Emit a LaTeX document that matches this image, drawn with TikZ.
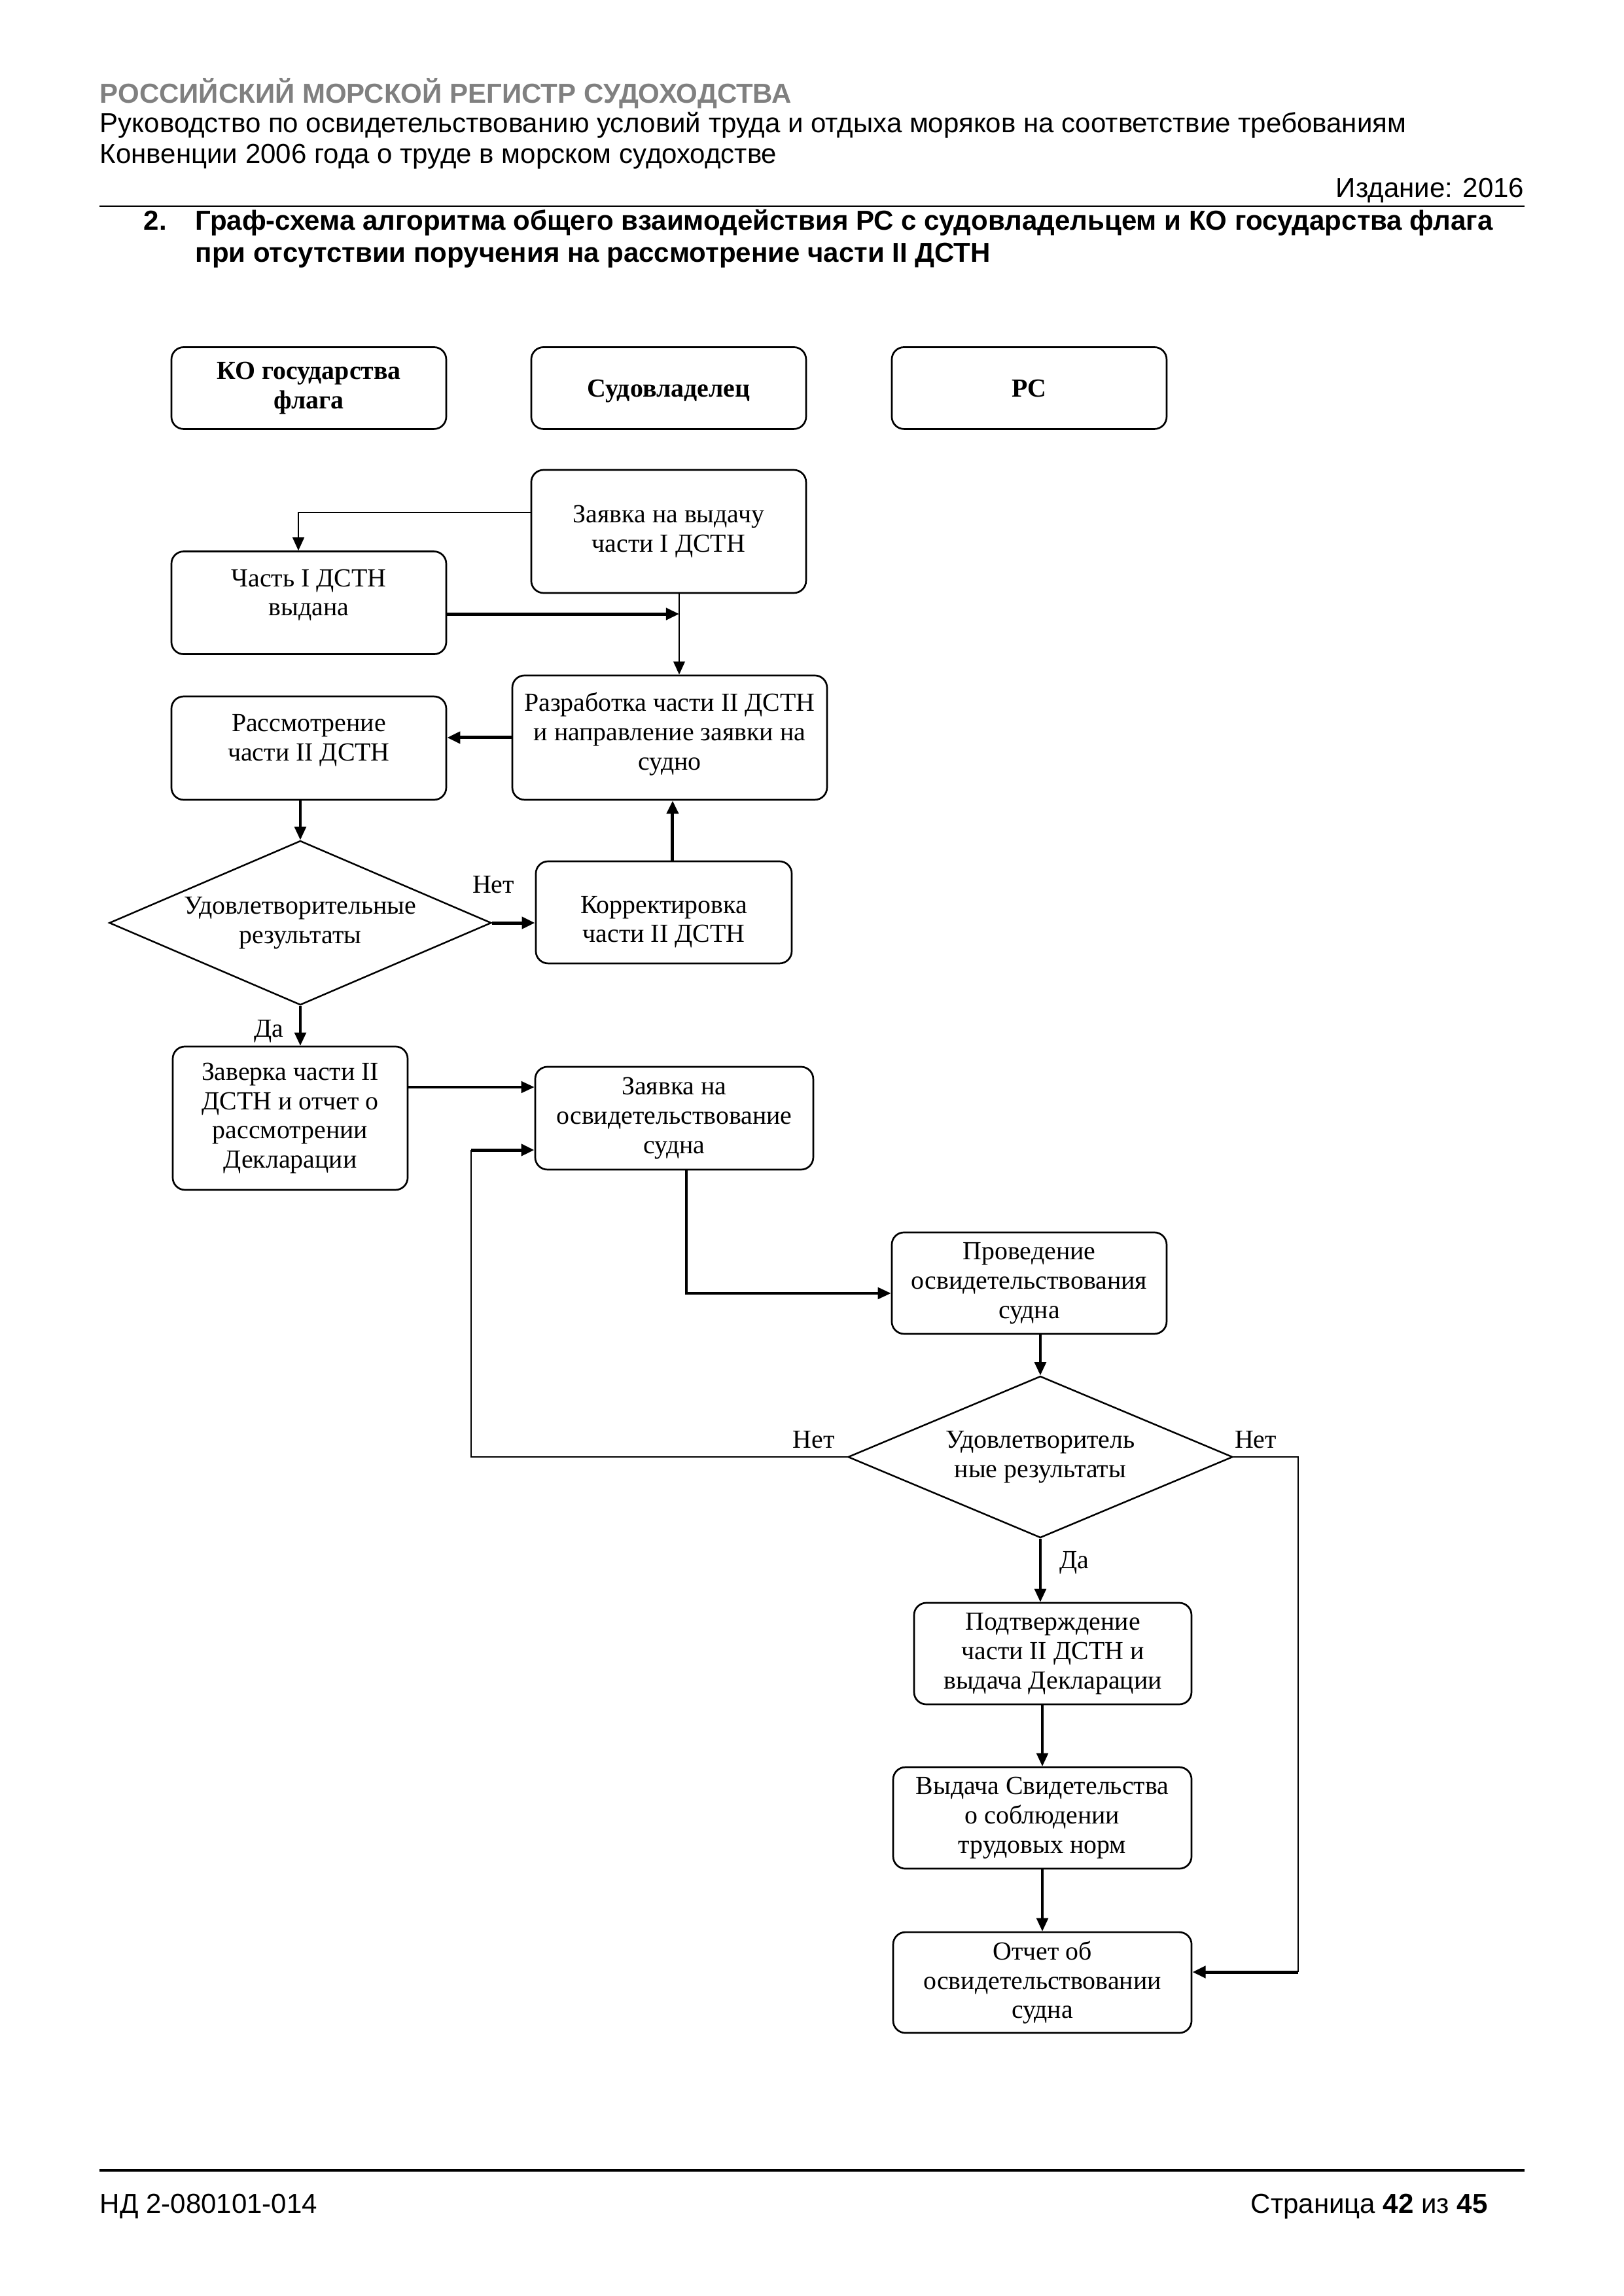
\documentclass[tikz,border=0pt]{standalone}
\usepackage{fontspec}
\setmainfont{Liberation Serif}
\newfontfamily\headfont{Liberation Sans}
\usetikzlibrary{positioning, calc, shapes.geometric, arrows.meta}
\definecolor{RegGray}{HTML}{808080}

\begin{document}
\begin{tikzpicture}[
    font=\fontsize{9.6}{10.8}\selectfont,
    >={Triangle[length=1.7mm, width=1.5mm]},
    lane/.style={rectangle, draw, rounded corners=4.5pt, minimum width=3.555cm, minimum height=1.058cm, align=center, line width=0.65pt, font=\fontsize{9.6}{10.8}\selectfont\bfseries},
    stage/.style={rectangle, draw, rounded corners=4.5pt, minimum width=3.555cm, align=center, line width=0.65pt, inner sep=1pt},
    check/.style={diamond, draw, aspect=2.33, inner sep=0pt, align=center, line width=0.6pt},
    link/.style={line width=0.5pt},
    flow/.style={line width=0.8pt},
    heavy/.style={line width=1.2pt},
    head/.style={anchor=base west, inner sep=0pt, font=\headfont\fontsize{10.12}{12}\selectfont},
    headbf/.style={head, font=\headfont\fontsize{10.12}{12}\selectfont\bfseries},
    tag/.style={inner sep=0pt}
  ]
    \useasboundingbox (0,0) rectangle (21,-29.693);

    % Header
    \node (reg) [headbf, text=RegGray] at (1.287,-1.329) {РОССИЙСКИЙ МОРСКОЙ РЕГИСТР СУДОХОДСТВА};
    \node (guide1) [head] at (1.287,-1.710) {Руководство по освидетельствованию условий труда и отдыха моряков на соответствие требованиям};
    \node (guide2) [head] at (1.287,-2.116) {Конвенции 2006 года о труде в морском судоходстве};
    \node (edition) [head, anchor=base east] at (19.722,-2.548) {Издание: 2016};
    \draw [line width=0.65pt] (1.287,-2.666) -- (19.722,-2.666);
    \node (num) [headbf] at (1.854,-2.971) {2.};
    \node (title1) [headbf] at (2.522,-2.971) {Граф-схема алгоритма общего взаимодействия РС с судовладельцем и КО государства флага};
    \node (title2) [headbf] at (2.522,-3.394) {при отсутствии поручения на рассмотрение части II ДСТН};

    % Lanes
    \node (flag) [lane] at (3.995,-5.019) {КО государства\\флага};
    \node (owner) [lane, text depth=0pt] at (8.650,-5.019) {Судовладелец};
    \node (rs) [lane, text depth=0pt] at (13.314,-5.019) {РС};

    % Nodes
    \node (req1) [stage, minimum height=1.591cm] at (8.650,-6.873) {Заявка на выдачу\\части I ДСТН};
    \node (part1) [stage, minimum height=1.329cm] at (3.995,-7.796) {Часть I ДСТН\\выдана\\[-3.2pt]\mbox{}};
    \node (dev2) [stage, minimum width=4.071cm, minimum height=1.608cm] at (8.663,-9.539) {Разработка части II ДСТН\\и направление заявки на\\судно\\[-6pt]\mbox{}};
    \node (rev2) [stage, minimum height=1.337cm] at (3.995,-9.675) {Рассмотрение\\части II ДСТН\\[-3.2pt]\mbox{}};
    \node (chk1) [check, minimum width=4.943cm, minimum height=2.125cm] at (3.885,-11.935) {Удовлетворительные\\результаты};
    \node (fix2) [stage, minimum width=3.310cm, minimum height=1.320cm] at (8.587,-11.799) {\mbox{}\\[2.6pt]Корректировка\\части II ДСТН};
    \node (cert2) [stage, minimum width=3.039cm, minimum height=1.854cm] at (3.754,-14.461) {Заверка части II\\ДСТН и отчет о\\рассмотрении\\Декларации};
    \node (req3) [stage, minimum width=3.597cm, minimum height=1.329cm] at (8.722,-14.461) {Заявка на\\освидетельствование\\судна};
    \node (insp) [stage, minimum height=1.312cm] at (13.314,-16.594) {Проведение\\освидетельствования\\судна};
    \node (chk2) [check, minimum width=4.977cm, minimum height=2.091cm] at (13.458,-18.842) {Удовлетворитель\\ные результаты};
    \node (conf3) [stage, minimum width=3.589cm, minimum height=1.312cm] at (13.619,-21.385) {Подтверждение\\части II ДСТН и\\выдача Декларации};
    \node (issue3) [stage, minimum width=3.860cm, minimum height=1.312cm] at (13.484,-23.510) {Выдача Свидетельства\\о соблюдении\\трудовых норм};
    \node (rep3) [stage, minimum width=3.860cm, minimum height=1.303cm] at (13.484,-25.639) {Отчет об\\освидетельствовании\\судна};

    % Labels
    \node (no1) [tag] at (6.382,-11.444) {Нет};
    \node (yes1) [tag] at (3.479,-13.340) {Да};
    \node (no2) [tag] at (10.529,-18.621) {Нет};
    \node (no3) [tag] at (16.243,-18.621) {Нет};
    \node (yes2) [tag] at (13.898,-20.213) {Да};

    % Arrows
    \coordinate (join1) at (8.786,-7.940);
    \coordinate (up2) at (8.701,-10.9);
    \coordinate (back1) at (6.094,-14.872);
    \coordinate (down3) at (8.879,-16.725);
    \coordinate (side3) at (16.793,-25.503);

    \draw [->, line width=0.55pt] ($(req1.west)+(0,0.245)$) -| ($(part1.north)+(-0.135,0)$);
    \draw [->, heavy] (part1.east |- join1) -- (join1);
    \draw [->, link] (req1.south -| join1) -- (dev2.north -| join1);
    \draw [->, heavy] (dev2.west) -- (dev2.west -| rev2.east);
    \draw [->, flow] (rev2.south -| chk1.north) -- (chk1.north);
    \draw [->, heavy] (chk1.east) -- (chk1.east -| fix2.west);
    \draw [->, heavy] (fix2.north -| up2) -- (dev2.south -| up2);
    \draw [->, flow] (chk1.south) -- (chk1.south |- cert2.north);
    \draw [->, flow] ($(cert2.east)+(0,0.402)$) -- ($(req3.west)+(0,0.402)$);
    \draw [link] (chk2.west) -| (back1);
    \draw [->, heavy] (back1) -- (back1 -| req3.west);
    \draw [->, flow] (req3.south -| down3) |- (insp.west |- down3);
    \draw [->, flow] (insp.south -| chk2.north) -- (chk2.north);
    \draw [->, flow] (chk2.south) -- (chk2.south |- conf3.north);
    \draw [->, flow] (conf3.south -| issue3.north) -- (issue3.north);
    \draw [->, flow] (issue3.south) -- (rep3.north);
    \draw [link] (chk2.east) -| (side3);
    \draw [->, heavy] (side3) -- (side3 -| rep3.east);

    % Footer
    \draw [line width=1pt] (1.287,-28.068) -- (19.722,-28.068);
    \node (docno) [head] at (1.287,-28.626) {НД 2-080101-014};
    \node (page) [head, anchor=base east] at (19.25,-28.626) {Страница \textbf{42} из \textbf{45}};
  \end{tikzpicture}
\end{document}
